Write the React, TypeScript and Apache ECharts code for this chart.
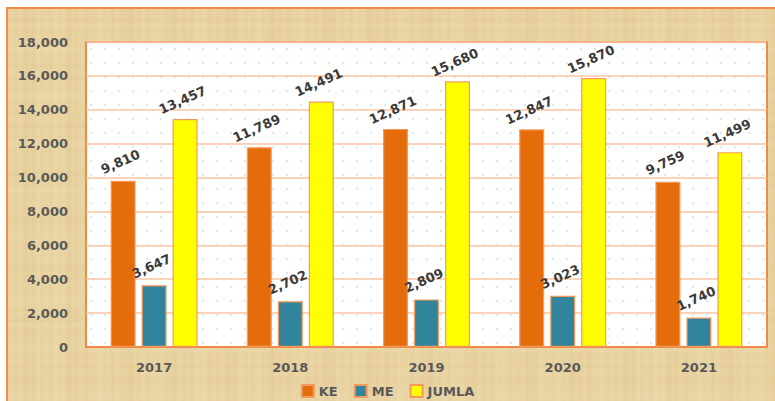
import React, { useEffect, useRef } from "react";
import * as echarts from "echarts";

const years = ["2017", "2018", "2019", "2020", "2021"];
const keValues = [9810, 11789, 12871, 12847, 9759];
const meValues = [3647, 2702, 2809, 3023, 1740];
const jumlaValues = [13457, 14491, 15680, 15870, 11499];

function makeDots(): string {
  const c = document.createElement("canvas");
  c.width = 14;
  c.height = 14;
  const g = c.getContext("2d")!;
  g.fillStyle = "#ffffff";
  g.fillRect(0, 0, 14, 14);
  g.fillStyle = "#c3e2e8";
  g.beginPath();
  g.arc(7, 7, 0.9, 0, Math.PI * 2);
  g.fill();
  return c.toDataURL();
}

function makePapyrus(): string {
  const w = 300;
  const h = 300;
  const c = document.createElement("canvas");
  c.width = w;
  c.height = h;
  const g = c.getContext("2d")!;
  g.fillStyle = "#e9d3a1";
  g.fillRect(0, 0, w, h);
  for (let x = 0; x < w; x++) {
    const v =
      Math.sin(x * 0.713) * 0.4 +
      Math.sin(x * 0.1257 + 1.3) * 0.35 +
      Math.sin(x * 1.931 + 0.4) * 0.25 +
      Math.sin(x * 0.311 + 2.2) * 0.3;
    g.fillStyle = v > 0 ? `rgba(255,248,225,${Math.min(0.16, v * 0.1)})` : `rgba(180,140,70,${Math.min(0.1, -v * 0.07)})`;
    g.fillRect(x, 0, 1, h);
  }
  for (let y = 0; y < h; y++) {
    const v =
      Math.sin(y * 0.533 + 0.7) * 0.4 +
      Math.sin(y * 0.1257 + 2.1) * 0.35 +
      Math.sin(y * 2.113) * 0.2 +
      Math.sin(y * 0.271 + 1.1) * 0.3;
    g.fillStyle = v > 0 ? `rgba(255,248,225,${Math.min(0.08, v * 0.06)})` : `rgba(180,140,70,${Math.min(0.07, -v * 0.045)})`;
    g.fillRect(0, y, w, 1);
  }
  return c.toDataURL();
}

export default function App() {
  const ref = useRef<HTMLDivElement>(null);

  useEffect(() => {
    if (!ref.current) return;
    const chart = echarts.init(ref.current, undefined, { renderer: "svg" });
    const dots = makeDots();
    const papyrus = makePapyrus();
    const font = "DejaVu Sans";
    const label = {
      show: true,
      position: "top" as const,
      rotate: 24,
      distance: 13,
      color: "#3a3a3a",
      fontFamily: font,
      fontWeight: "bold" as const,
      fontSize: 13,
      formatter: (p: any) => Number(p.value).toLocaleString("en-US"),
    };
    const border = { borderColor: "#f39a5c", borderWidth: 1.2 };
    chart.setOption({
      animation: false,
      backgroundColor: "#ffffff",
      graphic: [
        {
          type: "rect",
          z: -10,
          silent: true,
          shape: { x: 7, y: 8, width: 800, height: 420 },
          style: {
            fill: { image: papyrus, repeat: "repeat" } as any,
            stroke: "#f08a46",
            lineWidth: 2,
          },
        },
      ],
      grid: {
        left: 86,
        right: 8,
        top: 42,
        bottom: 54,
        show: true,
        backgroundColor: { image: dots, repeat: "repeat" } as any,
        borderColor: "#f08a46",
        borderWidth: 2,
      },
      legend: {
        bottom: -2,
        left: "center",
        itemWidth: 12,
        itemHeight: 12,
        itemGap: 16,
        icon: "rect",
        textStyle: {
          color: "#595959",
          fontFamily: font,
          fontWeight: "bold",
          fontSize: 13,
        },
        data: ["KE", "ME", "JUMLA"],
      },
      xAxis: {
        type: "category",
        data: years,
        axisLine: { show: true, lineStyle: { color: "#f08a46", width: 2 } },
        axisTick: { show: false },
        axisLabel: {
          color: "#595959",
          fontFamily: font,
          fontWeight: "bold",
          fontSize: 13,
          margin: 14,
        },
      },
      yAxis: {
        type: "value",
        min: 0,
        max: 18000,
        interval: 2000,
        axisLine: { show: false },
        axisTick: { show: false },
        splitLine: { lineStyle: { color: "#f9c4a0", width: 1.5 } },
        axisLabel: {
          color: "#595959",
          fontFamily: font,
          fontWeight: "bold",
          fontSize: 13,
          margin: 18,
          formatter: (v: number) => v.toLocaleString("en-US"),
        },
      },
      series: [
        {
          name: "KE",
          type: "bar",
          data: keValues,
          barWidth: 25,
          barGap: "24%",
          itemStyle: { color: "#e46c0a", ...border },
          label,
        },
        {
          name: "ME",
          type: "bar",
          data: meValues,
          barWidth: 25,
          barGap: "24%",
          itemStyle: { color: "#31849b", ...border },
          label,
        },
        {
          name: "JUMLA",
          type: "bar",
          data: jumlaValues,
          barWidth: 25,
          barGap: "24%",
          itemStyle: { color: "#ffff00", ...border },
          label,
        },
      ],
    });
    return () => chart.dispose();
  }, []);

  return (
    <div
      ref={ref}
      style={{ position: "fixed", left: 0, top: 0, width: 775, height: 401 }}
    />
  );
}
